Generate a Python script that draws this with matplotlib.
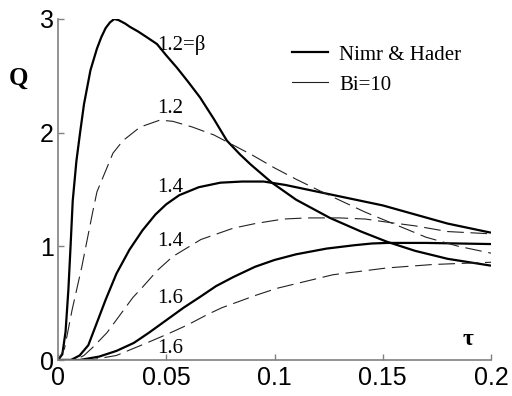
import matplotlib
matplotlib.use("Agg")
import matplotlib.pyplot as plt
from matplotlib.lines import Line2D

# Nimr & Hader (solid, thick)
nh_12_t = [0, 0.002, 0.0035, 0.0048, 0.0058, 0.0068, 0.0085, 0.0102, 0.012, 0.015, 0.018, 0.020,
           0.022, 0.024, 0.026, 0.028, 0.031, 0.0333, 0.037, 0.041, 0.0457, 0.050, 0.055, 0.060,
           0.0656, 0.072, 0.078, 0.084, 0.089, 0.0988, 0.110, 0.1256, 0.140, 0.152, 0.165, 0.180,
           0.200]
nh_12_q = [0, 0.05, 0.25, 0.62, 1.0, 1.4, 1.75, 2.0, 2.25, 2.55, 2.74, 2.84,
           2.92, 2.97, 3.0, 2.99, 2.96, 2.93, 2.89, 2.84, 2.78, 2.68, 2.57, 2.45,
           2.31, 2.12, 1.93, 1.81, 1.72, 1.56, 1.41, 1.25, 1.13, 1.04, 0.96, 0.89,
           0.83]

nh_14_t = [0, 0.006, 0.010, 0.014, 0.018, 0.022, 0.027, 0.033, 0.039, 0.045, 0.050, 0.056, 0.065,
           0.075, 0.085, 0.095, 0.105, 0.120, 0.135, 0.150, 0.165, 0.180, 0.200]
nh_14_q = [0, 0.0, 0.04, 0.13, 0.33, 0.53, 0.76, 0.97, 1.14, 1.28, 1.37, 1.45, 1.52,
           1.56, 1.57, 1.57, 1.54, 1.48, 1.42, 1.36, 1.28, 1.20, 1.12]

nh_16_t = [0, 0.010, 0.019, 0.027, 0.035, 0.042, 0.050, 0.058, 0.066, 0.073, 0.081, 0.091, 0.100,
           0.110, 0.124, 0.137, 0.145, 0.152, 0.170, 0.200]
nh_16_q = [0, 0.0, 0.03, 0.08, 0.15, 0.24, 0.35, 0.46, 0.56, 0.65, 0.73, 0.82, 0.88,
           0.93, 0.98, 1.01, 1.025, 1.03, 1.03, 1.02]

# Bi = 10 (dashed, thin)
bi_12_t = [0, 0.003, 0.0065, 0.011, 0.016, 0.018, 0.0254, 0.030, 0.038, 0.047, 0.053, 0.062, 0.072,
           0.080, 0.090, 0.100, 0.110, 0.124, 0.142, 0.156, 0.170, 0.185, 0.200]
bi_12_q = [0, 0.1, 0.44, 0.82, 1.3, 1.48, 1.82, 1.93, 2.05, 2.11, 2.10, 2.05, 1.98,
           1.90, 1.80, 1.69, 1.59, 1.46, 1.30, 1.19, 1.08, 1.00, 0.94]

bi_14_t = [0, 0.008, 0.012, 0.016, 0.0226, 0.0346, 0.039, 0.046, 0.053, 0.066, 0.081, 0.091, 0.104,
           0.115, 0.130, 0.142, 0.153, 0.165, 0.180, 0.200]
bi_14_q = [0, 0.0, 0.04, 0.11, 0.24, 0.55, 0.64, 0.79, 0.91, 1.06, 1.16, 1.20, 1.24,
           1.25, 1.25, 1.24, 1.21, 1.18, 1.13, 1.11]

bi_16_t = [0, 0.015, 0.027, 0.041, 0.052, 0.060, 0.069, 0.0757, 0.0915, 0.101, 0.127, 0.152,
           0.173, 0.200]
bi_16_q = [0, 0.0, 0.04, 0.15, 0.24, 0.31, 0.40, 0.46, 0.57, 0.63, 0.75, 0.81,
           0.84, 0.86]

# curve labels: text, t, q
labels = [("1.2=β", 0.0457, 2.77), ("1.2", 0.0457, 2.21), ("1.4", 0.0457, 1.52),
          ("1.4", 0.0457, 1.04), ("1.6", 0.0457, 0.545), ("1.6", 0.0457, 0.105)]

fig = plt.figure(figsize=(5.12, 3.96), dpi=100)
ax = fig.add_axes([58 / 512, 36 / 396, 433 / 512, 341 / 396])

for t, q in [(nh_12_t, nh_12_q), (nh_14_t, nh_14_q), (nh_16_t, nh_16_q)]:
    ax.plot(t, q, color="black", lw=1.6, solid_capstyle="butt", solid_joinstyle="round")
for t, q in [(bi_12_t, bi_12_q), (bi_14_t, bi_14_q), (bi_16_t, bi_16_q)]:
    ax.plot(t, q, color="#222222", lw=0.8, dashes=(15, 6))

serif = "Liberation Serif"
for txt, t, q in labels:
    ax.text(t, q, txt, fontsize=15, family=serif, va="center", ha="left")

ax.set_xlim(0, 0.2)
ax.set_ylim(0, 3)
ax.set_xticks([0, 0.05, 0.1, 0.15, 0.2])
ax.set_xticklabels(["0", "0.05", "0.1", "0.15", "0.2"])
ax.set_yticks([0, 1, 2, 3])
ax.set_yticklabels(["0", "1", "2", "3"])
ax.tick_params(direction="in", length=4, width=1, color="#808080",
               labelsize=18, labelfontfamily="Liberation Sans")
ax.tick_params(axis="x", pad=4)
ax.tick_params(axis="y", pad=3)
for s in ["top", "right"]:
    ax.spines[s].set_visible(False)
for s in ["left", "bottom"]:
    ax.spines[s].set_color("#808080")
    ax.spines[s].set_linewidth(1.2)

fig.text(19 / 512, 1 - 78 / 396, "Q", fontsize=18, family=serif, weight="bold",
         ha="center", va="center")
ax.text(0.1894, 0.176, "τ", fontsize=17, family=serif, weight="bold",
        ha="center", va="center")

handles = [Line2D([], [], color="black", lw=1.6),
           Line2D([], [], color="#222222", lw=0.8)]
fig.legend(handles, ["Nimr & Hader", "Bi=10"], loc="upper left",
           bbox_to_anchor=(292 / 512, 1 - 45 / 396), frameon=False,
           prop={"family": serif, "size": 15}, handlelength=1.75,
           handletextpad=0.5, labelspacing=0.5, borderpad=0, borderaxespad=0)

fig.savefig("out.png", dpi=100)
